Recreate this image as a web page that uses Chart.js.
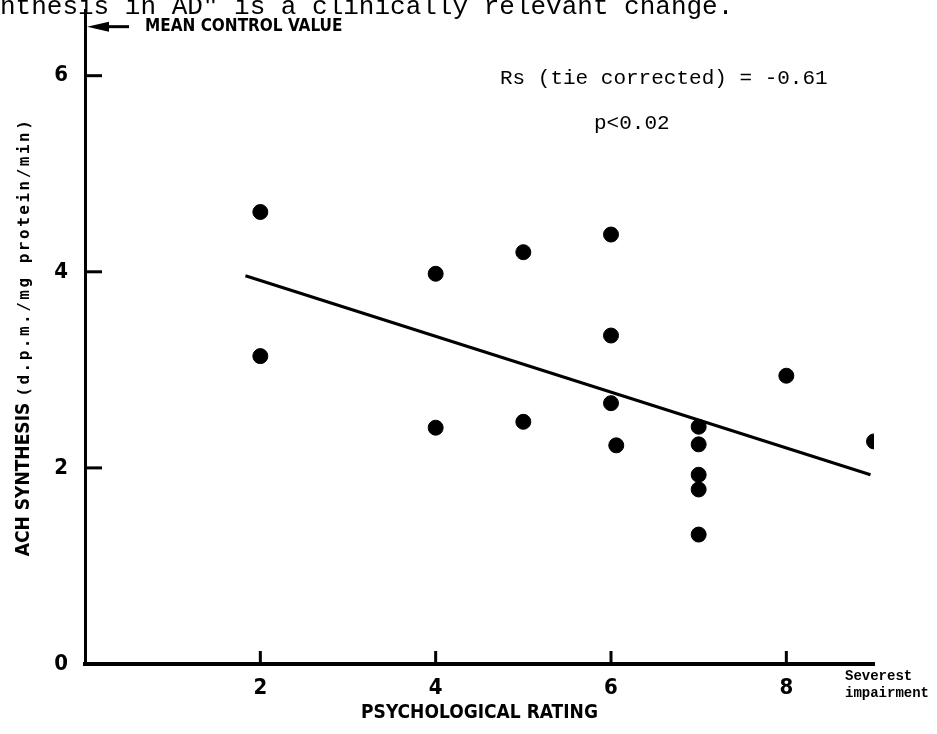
<!DOCTYPE html>
<html>
<head>
<meta charset="utf-8">
<script src="https://cdn.jsdelivr.net/npm/chart.js@4.4.0/dist/chart.umd.min.js"></script>
<style>
    body { margin: 0; background: #fff; }
    #wrap { width: 937px; height: 734px; }
</style>
</head>
<body>
<div id="wrap"><canvas id="achChart"></canvas></div>
<script>
// data
var ratings   = [2, 2, 4, 4, 5, 5, 6, 6, 6, 6.06, 7, 7, 7, 7, 7, 8, 9];
var synthesis = [4.61, 3.14, 3.98, 2.41, 4.20, 2.47, 4.38, 3.35, 2.66, 2.23, 2.42, 2.24, 1.93, 1.78, 1.32, 2.94, 2.27];
var fitX = [1.83, 8.96];
var fitY = [3.96, 1.93];
var xTicks = [2, 4, 6, 8];
var yTicks = [0, 2, 4, 6];
var meanControl = 6.5;

var narrow = "'DejaVu Sans Condensed', 'Liberation Sans Narrow', sans-serif";
var typewriter = "'Liberation Mono', 'DejaVu Sans Mono', monospace";

var points = ratings.map(function (r, i) { return { x: r, y: synthesis[i] }; });
var fitLine = fitX.map(function (v, i) { return { x: v, y: fitY[i] }; });

// inward tick marks, arrow, and the text notes
var extras = {
    id: 'extras',
    afterDraw: function (chart) {
        var ctx = chart.ctx;
        var xs = chart.scales.x, ys = chart.scales.y;
        ctx.save();
        ctx.strokeStyle = '#000';
        ctx.fillStyle = '#000';

        // ticks pointing into the plot
        ctx.lineWidth = 3;
        yTicks.forEach(function (v) {
            if (v === 0) return;
            var y = ys.getPixelForValue(v);
            ctx.beginPath();
            ctx.moveTo(ys.right, y);
            ctx.lineTo(ys.right + 17, y);
            ctx.stroke();
        });
        xTicks.forEach(function (v) {
            var x = xs.getPixelForValue(v);
            ctx.beginPath();
            ctx.moveTo(x, xs.top);
            ctx.lineTo(x, xs.top - 13);
            ctx.stroke();
        });

        // mean control value arrow
        var ay = ys.getPixelForValue(meanControl);
        var ax = xs.left + 2;
        ctx.beginPath();
        ctx.moveTo(ax, ay);
        ctx.lineTo(ax + 22, ay - 5);
        ctx.lineTo(ax + 22, ay + 5);
        ctx.closePath();
        ctx.fill();
        ctx.beginPath();
        ctx.moveTo(ax + 20, ay);
        ctx.lineTo(ax + 42, ay);
        ctx.stroke();
        ctx.font = 'bold 17px ' + narrow;
        ctx.textBaseline = 'middle';
        ctx.textAlign = 'left';
        ctx.fillText('MEAN CONTROL VALUE', ax + 58, ay);

        // statistics
        ctx.font = '21px ' + typewriter;
        ctx.fillText('Rs (tie corrected) = -0.61', 500, 78);
        ctx.fillText('p<0.02', 594, 123);

        // caption text cut off at the top of the page
        ctx.font = '26px ' + typewriter;
        ctx.textBaseline = 'alphabetic';
        ctx.fillText('nthesis in AD" is a clinically relevant change.', 0, 14);

        // end label of x axis
        ctx.font = 'bold 14px ' + typewriter;
        ctx.textBaseline = 'middle';
        ctx.fillText('Severest', 845, 676);
        ctx.fillText('impairment', 845, 693);

        // y axis title, two fonts
        ctx.translate(24, (ys.top + ys.bottom) / 2);
        ctx.rotate(-Math.PI / 2);
        var part1 = 'ACH SYNTHESIS ';
        var part2 = '(d.p.m./mg protein/min)';
        var smallFont = "bold 16px 'DejaVu Sans Mono', monospace";
        ctx.font = 'bold 19px ' + narrow;
        var w1 = ctx.measureText(part1).width;
        ctx.font = smallFont;
        ctx.letterSpacing = '2.5px';
        var w2 = ctx.measureText(part2).width;
        var start = -(w1 + w2) / 2;
        ctx.letterSpacing = '0px';
        ctx.font = 'bold 19px ' + narrow;
        ctx.fillText(part1, start, 0);
        ctx.font = smallFont;
        ctx.letterSpacing = '2.5px';
        ctx.fillText(part2, start + w1, 1);
        ctx.restore();
    }
};

Chart.defaults.font.family = narrow;
Chart.defaults.font.weight = 'bold';
Chart.defaults.color = '#000';

var ctx = document.getElementById('achChart').getContext('2d');
new Chart(ctx, {
    type: 'scatter',
    data: {
        datasets: [{
            label: 'Patients',
            data: points,
            backgroundColor: '#000',
            borderColor: '#000',
            pointRadius: 7.5,
            pointHoverRadius: 7.5
        }, {
            type: 'line',
            label: 'Fit',
            data: fitLine,
            borderColor: '#000',
            borderWidth: 3,
            pointRadius: 0,
            fill: false,
            tension: 0
        }]
    },
    options: {
        responsive: true,
        maintainAspectRatio: false,
        animation: false,
        layout: { padding: { top: 10, right: 63, left: 0, bottom: 0 } },
        plugins: {
            legend: { display: false },
            tooltip: { enabled: false }
        },
        scales: {
            x: {
                type: 'linear',
                min: 0,
                max: 9,
                afterFit: function (scale) {
                    scale.height = 70;
                    scale.paddingLeft = 0;
                    scale.paddingRight = 0;
                },
                afterBuildTicks: function (scale) {
                    scale.ticks = xTicks.map(function (v) { return { value: v }; });
                },
                grid: { display: true, drawOnChartArea: false, drawTicks: false },
                border: { color: '#000', width: 4 },
                ticks: { font: { size: 22, weight: 'bold' }, padding: 11, color: '#000' },
                title: {
                    display: true,
                    text: 'PSYCHOLOGICAL RATING',
                    font: { size: 19, weight: 'bold' },
                    color: '#000',
                    padding: { top: 0, bottom: 10 }
                }
            },
            y: {
                type: 'linear',
                min: 0,
                max: 6.67,
                afterFit: function (scale) {
                    scale.width = 85;
                    scale.paddingTop = 0;
                    scale.paddingBottom = 0;
                },
                afterBuildTicks: function (scale) {
                    scale.ticks = yTicks.map(function (v) { return { value: v }; });
                },
                grid: { display: true, drawOnChartArea: false, drawTicks: false },
                border: { color: '#000', width: 3 },
                ticks: { font: { size: 22, weight: 'bold' }, padding: 17, color: '#000' }
            }
        }
    },
    plugins: [extras]
});
</script>
</body>
</html>
